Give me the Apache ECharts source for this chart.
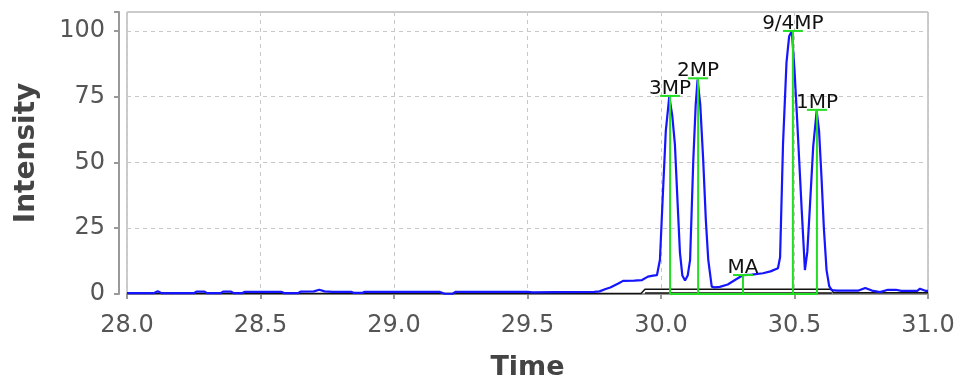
<!DOCTYPE html>
<html>
<head>
<meta charset="utf-8">
<script src="https://cdn.jsdelivr.net/npm/echarts@6/dist/echarts.min.js"></script>
<style>html,body{margin:0;padding:0;background:#fff;}#c{width:958px;height:381px;}</style>
</head>
<body>
<div id="c"></div>
<script>
// Chromatogram trace (time, intensity)
const traceTime = [28.00,28.10,28.115,28.13,28.25,28.26,28.29,28.30,28.35,28.36,28.39,28.40,28.43,28.44,28.58,28.59,28.64,28.65,28.70,28.72,28.74,28.77,28.84,28.85,28.88,28.89,29.17,29.19,29.22,29.23,29.50,29.52,29.60,29.75,29.77,29.79,29.81,29.84,29.858,29.90,29.929,29.951,29.97,29.985,29.996,30.007,30.018,30.031,30.042,30.052,30.062,30.071,30.08,30.09,30.10,30.109,30.121,30.13,30.137,30.147,30.158,30.168,30.177,30.19,30.20,30.22,30.25,30.28,30.308,30.34,30.382,30.41,30.438,30.446,30.457,30.47,30.48,30.49,30.50,30.508,30.518,30.527,30.539,30.548,30.557,30.57,30.583,30.592,30.601,30.61,30.62,30.63,30.639,30.66,30.74,30.765,30.79,30.82,30.85,30.88,30.90,30.96,30.97,30.99,31.00];
const traceIntensity = [0.3,0.3,1.0,0.3,0.3,0.9,0.9,0.3,0.3,0.9,0.9,0.3,0.3,0.8,0.8,0.3,0.3,0.9,1.0,1.6,1.0,0.8,0.8,0.4,0.4,0.8,0.8,0.1,0.1,0.8,0.8,0.6,0.7,0.8,1.0,1.8,2.5,4.0,5.0,5.1,5.3,6.6,7.0,7.2,13,38,62,75,68,57,35,15.6,7,5.1,7,13,51,72,81.5,72,51,28,13,2.8,2.5,2.7,3.6,5.5,7.2,7.4,7.9,8.6,9.8,14,57,88,98,100,85,70,50,32,9.1,16,32,56,69.5,62,44.6,25,9.1,3,1.5,1.3,1.3,2.3,1.3,0.7,1.6,1.6,1.2,1.2,2.0,1.2,1.2];

// Integration baseline
const baseUpperTime = [28.00,29.925,29.94,30.64,30.645,31.00];
const baseUpperValue = [0.2,0.2,1.8,1.8,0.5,0.5];
const baseLowerTime = [29.94,30.64];
const baseLowerValue = [0.4,0.4];

// Peak annotations
const peakNames = ['3MP','2MP','MA','9/4MP','1MP'];
const peakTimes = [30.034,30.139,30.307,30.494,30.584];
const peakHeights = [75.3,82,7.2,100,70];

// Axis ticks
const xTicks = [28.0,28.5,29.0,29.5,30.0,30.5,31.0];
const yTicks = [0,25,50,75,100];

const FONT = 'DejaVu Sans';
const chart = echarts.init(document.getElementById('c'), null, {renderer:'canvas'});

const zip = (a,b) => a.map((v,i)=>[v,b[i]]);

chart.setOption({
  animation:false,
  backgroundColor:'#fff',
  grid:{left:127,right:30,top:12,bottom:87,containLabel:false,outerBoundsMode:'none',show:true,borderColor:'#999',borderWidth:1,backgroundColor:'transparent'},
  xAxis:{
    type:'value',min:xTicks[0],max:xTicks[xTicks.length-1],interval:0.5,
    offset:8,
    name:'Time',nameLocation:'middle',nameGap:52,
    nameTextStyle:{fontFamily:FONT,fontSize:27,fontWeight:'bold',color:'#444'},
    axisLine:{show:true,lineStyle:{color:'#999',width:2}},
    axisTick:{show:true,length:5,lineStyle:{color:'#999',width:2}},
    axisLabel:{fontFamily:FONT,fontSize:24,color:'#555',margin:12,formatter:v=>v.toFixed(1)},
    splitLine:{show:true,lineStyle:{color:'#c8c8c8',type:[4,4],width:1}}
  },
  yAxis:{
    type:'value',min:0,max:107.2,interval:25,
    offset:8,
    name:'Intensity',nameLocation:'middle',nameGap:78,
    nameTextStyle:{fontFamily:FONT,fontSize:28,fontWeight:'bold',color:'#444'},
    axisLine:{show:true,lineStyle:{color:'#999',width:2}},
    axisTick:{show:true,length:5,lineStyle:{color:'#999',width:2}},
    axisLabel:{fontFamily:FONT,fontSize:24,color:'#555',margin:14,
      formatter:v=>(yTicks.indexOf(v)>=0? String(v):'')},
    splitLine:{show:true,lineStyle:{color:'#c8c8c8',type:[4,4],width:1}}
  },
  series:[
    {type:'line',data:zip(baseUpperTime,baseUpperValue),showSymbol:false,lineStyle:{color:'#111',width:1.5},z:2,silent:true},
    {type:'line',data:zip(baseLowerTime,baseLowerValue),showSymbol:false,lineStyle:{color:'#111',width:1.5},z:2,silent:true},
    {type:'line',data:zip(traceTime,traceIntensity),showSymbol:false,lineStyle:{color:'#1515ff',width:2.2},z:3,silent:true},
    {type:'line',data:[[peakTimes[0],0],[peakTimes[peakTimes.length-1],0]],showSymbol:false,lineStyle:{color:'#22dd22',width:2},z:4,silent:true},
    {type:'custom',z:5,silent:true,
      data:peakNames.map((n,i)=>[peakTimes[i],peakHeights[i],i]),
      renderItem:(params,api)=>{
        const t=api.value(0),h=api.value(1),i=api.value(2);
        const p0=api.coord([t,0]),p1=api.coord([t,h]);
        return {type:'group',children:[
          {type:'line',shape:{x1:p0[0],y1:p0[1],x2:p1[0],y2:p1[1]},style:{stroke:'#22dd22',lineWidth:2}},
          {type:'line',shape:{x1:p1[0]-10,y1:p1[1],x2:p1[0]+10,y2:p1[1]},style:{stroke:'#22dd22',lineWidth:2}},
          {type:'text',x:p1[0],y:p1[1]-7,style:{text:peakNames[i],fill:'#111',font:'20px "DejaVu Sans"',align:'center',verticalAlign:'middle'}}
        ]};
      }
    }
  ]
});
</script>
</body>
</html>
